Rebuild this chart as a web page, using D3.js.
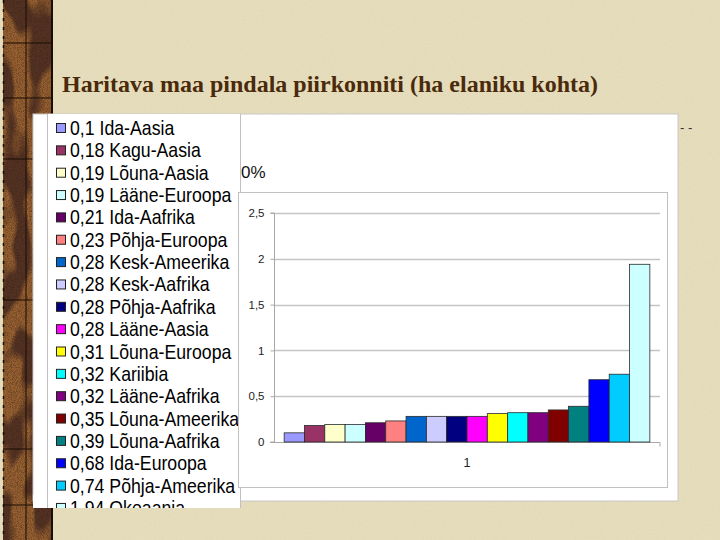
<!DOCTYPE html>
<html>
<head>
<meta charset="utf-8">
<script src="https://cdn.jsdelivr.net/npm/d3@7"></script>
<style>
  body { margin: 0; background: #e6ddbc; }
  svg { display: block; }
</style>
</head>
<body>
<div id="chart"></div>
<script>
// region names, sorted by value (as in the source slide)
var regions = ['Ida-Aasia', 'Kagu-Aasia', 'Lõuna-Aasia', 'Lääne-Euroopa', 'Ida-Aafrika',
    'Põhja-Euroopa', 'Kesk-Ameerika', 'Kesk-Aafrika', 'Põhja-Aafrika', 'Lääne-Aasia',
    'Lõuna-Euroopa', 'Kariibia', 'Lääne-Aafrika', 'Lõuna-Ameerika', 'Lõuna-Aafrika',
    'Ida-Euroopa', 'Põhja-Ameerika', 'Okeaania'];

// ha per inhabitant
var values = [0.1, 0.18, 0.19, 0.19, 0.21, 0.23, 0.28, 0.28, 0.28, 0.28,
    0.31, 0.32, 0.32, 0.35, 0.39, 0.68, 0.74, 1.94];

var colors = ['#9999ff', '#993366', '#ffffcc', '#ccffff', '#660066', '#ff8080',
    '#0066cc', '#ccccff', '#000080', '#ff00ff', '#ffff00', '#00ffff', '#800080',
    '#800000', '#008080', '#0000ff', '#00ccff', '#ccffff'];

var yTicks = [0, 0.5, 1, 1.5, 2, 2.5];
var xCategory = '1';

var title = 'Haritava maa pindala piirkonniti (ha elaniku kohta)';

var et = d3.formatLocale({ decimal: ',', thousands: ' ', grouping: [3], currency: ['', ' €'] });
var fmt = et.format('');

var data = regions.map(function(r, i) {
    return { name: r, value: values[i], color: colors[i] };
});

var W = 720, H = 540;

var svg = d3.select('#chart').append('svg')
    .attr('width', W)
    .attr('height', H);

/* textures */
var defs = svg.append('defs');

var paper = defs.append('filter').attr('id', 'paper')
    .attr('x', 0).attr('y', 0).attr('width', 1).attr('height', 1);
paper.append('feTurbulence')
    .attr('type', 'fractalNoise')
    .attr('baseFrequency', '0.9 0.9')
    .attr('numOctaves', 2)
    .attr('seed', 3)
    .attr('result', 'n');
paper.append('feColorMatrix')
    .attr('in', 'n')
    .attr('type', 'matrix')
    .attr('values', '0 0 0 0 0.55  0 0 0 0 0.5  0 0 0 0 0.35  0 0 0 -0.9 0.55');

var wood = defs.append('filter').attr('id', 'wood')
    .attr('x', 0).attr('y', 0).attr('width', 1).attr('height', 1)
    .attr('color-interpolation-filters', 'sRGB');
wood.append('feTurbulence')
    .attr('type', 'fractalNoise')
    .attr('baseFrequency', '0.035 0.018')
    .attr('numOctaves', 2)
    .attr('seed', 7)
    .attr('result', 'blot');
wood.append('feColorMatrix')
    .attr('in', 'blot')
    .attr('type', 'matrix')
    .attr('values', '0 0 0 0 0.33  0 0 0 0 0.2  0 0 0 0 0.14  0 0 0 9 -4.2')
    .attr('result', 'dark');
wood.append('feTurbulence')
    .attr('type', 'fractalNoise')
    .attr('baseFrequency', 1.2)
    .attr('numOctaves', 1)
    .attr('seed', 2)
    .attr('result', 'grain');
wood.append('feColorMatrix')
    .attr('in', 'grain')
    .attr('type', 'matrix')
    .attr('values', '0 0 0 0 0.2  0 0 0 0 0.1  0 0 0 0 0.05  0 0 0 -1.2 0.75')
    .attr('result', 'grainC');
wood.append('feFlood').attr('flood-color', '#986232').attr('result', 'base');
var wm = wood.append('feMerge');
wm.append('feMergeNode').attr('in', 'base');
wm.append('feMergeNode').attr('in', 'dark');
wm.append('feMergeNode').attr('in', 'grainC');

/* slide background */
svg.append('rect')
    .attr('width', W).attr('height', H)
    .attr('fill', '#e6ddbc');
svg.append('rect')
    .attr('width', W).attr('height', H)
    .attr('filter', 'url(#paper)')
    .attr('opacity', 0.35);

/* left decorative strip */
var strip = svg.append('g');
strip.append('rect')
    .attr('x', 3).attr('y', 0)
    .attr('width', 49).attr('height', H)
    .attr('fill', '#986232')
    .attr('filter', 'url(#wood)');
strip.append('line')
    .attr('x1', 26).attr('x2', 26).attr('y1', 0).attr('y2', H)
    .attr('stroke', '#1a0d05').attr('stroke-width', 1);
[43, 98, 159, 300, 449, 505].forEach(function(yy) {
    strip.append('line')
        .attr('x1', 3).attr('x2', 52).attr('y1', yy).attr('y2', yy)
        .attr('stroke', '#1a0d05').attr('stroke-width', 1);
});
strip.append('line')
    .attr('x1', 3.5).attr('x2', 3.5).attr('y1', 0).attr('y2', H)
    .attr('stroke', '#1a0d05').attr('stroke-width', 1.5)
    .attr('stroke-dasharray', '3 6');
strip.append('line')
    .attr('x1', 52).attr('x2', 52).attr('y1', 0).attr('y2', H)
    .attr('stroke', '#1a0d05').attr('stroke-width', 2);

/* title */
svg.append('text')
    .attr('x', 62)
    .attr('y', 92)
    .attr('textLength', 536)
    .attr('lengthAdjust', 'spacingAndGlyphs')
    .style('font-family', '"Liberation Serif", "DejaVu Serif", serif')
    .style('font-size', '23px')
    .style('font-weight', 'bold')
    .style('fill', '#4a2a0b')
    .text(title);

svg.append('text')
    .attr('x', 680)
    .attr('y', 132)
    .style('font-family', '"Liberation Sans", Arial, sans-serif')
    .style('font-size', '13px')
    .style('fill', '#333')
    .text('- -');

/* pasted chart object */
svg.append('rect')
    .attr('x', 33).attr('y', 114)
    .attr('width', 645).attr('height', 387)
    .attr('fill', '#fff')
    .attr('stroke', '#c8c8c8')
    .attr('stroke-width', 1);
svg.append('rect')
    .attr('x', 33).attr('y', 495)
    .attr('width', 208).attr('height', 13)
    .attr('fill', '#fff');

svg.append('text')
    .attr('x', 241)
    .attr('y', 178)
    .style('font-family', '"Liberation Sans", Arial, sans-serif')
    .style('font-size', '17px')
    .style('fill', '#111')
    .text('0%');

/* legend */
svg.append('clipPath').attr('id', 'legClip')
    .append('rect')
    .attr('x', 47).attr('y', 114)
    .attr('width', 195).attr('height', 394);

var legend = svg.append('g').attr('clip-path', 'url(#legClip)');
legend.append('rect')
    .attr('x', 47.5).attr('y', 110)
    .attr('width', 193).attr('height', 420)
    .attr('fill', '#fff')
    .attr('stroke', '#c0c0c0');

var rowStep = 22.35;
var items = legend.selectAll('.leg').data(data)
    .enter().append('g')
    .attr('class', 'leg')
    .attr('transform', function(d, i) {
        return 'translate(0,' + (135 + i * rowStep) + ')';
    });

items.append('rect')
    .attr('x', 56.5).attr('y', -11.5)
    .attr('width', 9).attr('height', 9)
    .attr('fill', function(d) { return d.color; })
    .attr('stroke', '#222')
    .attr('stroke-width', 1);

items.append('text')
    .attr('transform', 'translate(70,0) scale(1,1.12)')
    .style('font-family', '"Liberation Sans", Arial, sans-serif')
    .style('font-size', '17.7px')
    .style('fill', '#000')
    .text(function(d) { return fmt(d.value) + ' ' + d.name; });

/* chart frame */
svg.append('rect')
    .attr('x', 238.5).attr('y', 192.5)
    .attr('width', 429).attr('height', 295)
    .attr('fill', '#fff')
    .attr('stroke', '#c0c0c0');

var x = d3.scaleBand()
    .domain(regions)
    .range([274, 660])
    .paddingInner(0)
    .paddingOuter(0.5);

var y = d3.scaleLinear()
    .domain([0, 2.5])
    .range([442, 213]);

var plot = svg.append('g');

plot.selectAll('.grid').data(yTicks.filter(function(t) { return t > 0; }))
    .enter().append('line')
    .attr('class', 'grid')
    .attr('x1', 274).attr('x2', 660)
    .attr('y1', function(d) { return Math.round(y(d)) + 0.5; })
    .attr('y2', function(d) { return Math.round(y(d)) + 0.5; })
    .attr('stroke', '#c4c4c4')
    .attr('stroke-width', 1.3);

var yAxis = d3.axisLeft(y)
    .tickValues(yTicks)
    .tickSize(4)
    .tickPadding(6)
    .tickFormat(et.format('.1~f'));

var gy = plot.append('g')
    .attr('transform', 'translate(274.5,0)')
    .call(yAxis);
gy.select('.domain').attr('stroke', '#a8a8a8').attr('d', 'M-4,' + y(2.5) + 'H0V' + y(0) + 'H-4');
gy.selectAll('.tick line').attr('stroke', '#a8a8a8');
gy.selectAll('.tick text')
    .style('font-family', '"Liberation Sans", Arial, sans-serif')
    .style('font-size', '11.5px')
    .style('fill', '#222');

// category axis (single category "1")
var xc = d3.scaleBand().domain([xCategory]).range([274, 660]);
var xAxis = d3.axisBottom(xc).tickSize(0).tickPadding(16);
var gx = plot.append('g')
    .attr('transform', 'translate(0,' + (y(0) + 0.5) + ')')
    .call(xAxis);
gx.select('.domain').attr('stroke', '#a8a8a8').attr('d', 'M270,0H660V4');
gx.selectAll('.tick text')
    .style('font-family', '"Liberation Sans", Arial, sans-serif')
    .style('font-size', '12.5px')
    .style('fill', '#222');

/* bars */
plot.selectAll('.bar').data(data)
    .enter().append('rect')
    .attr('class', 'bar')
    .attr('x', function(d) { return x(d.name); })
    .attr('y', function(d) { return y(d.value); })
    .attr('width', x.bandwidth())
    .attr('height', function(d) { return y(0) - y(d.value); })
    .attr('fill', function(d) { return d.color; })
    .attr('stroke', '#2a2a2a')
    .attr('stroke-width', 0.8);
</script>
</body>
</html>
